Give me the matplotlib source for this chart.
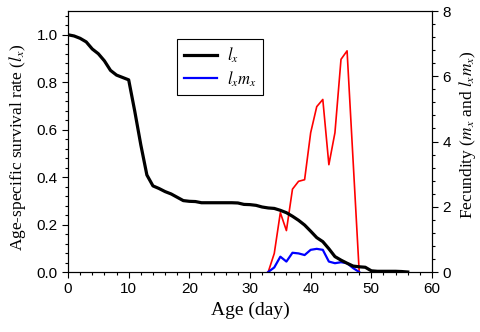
import matplotlib
matplotlib.use('Agg')
import matplotlib.pyplot as plt
from matplotlib.ticker import MultipleLocator, FormatStrFormatter

plt.rcParams['mathtext.fontset'] = 'stix'

# Data
days_lx = list(range(0, 57))
lx = [1.0, 0.995, 0.985, 0.97, 0.94, 0.92, 0.89, 0.85, 0.83, 0.82,
      0.81, 0.678, 0.536, 0.409, 0.363, 0.352, 0.339, 0.329, 0.315, 0.301,
      0.298, 0.297, 0.292, 0.292, 0.292, 0.292, 0.292, 0.292, 0.291, 0.285,
      0.284, 0.281, 0.274, 0.27, 0.268, 0.26, 0.25, 0.235, 0.218, 0.198,
      0.172, 0.145, 0.128, 0.098, 0.065, 0.05, 0.037, 0.025, 0.022, 0.02,
      0.005, 0.003, 0.003, 0.003, 0.003, 0.002, 0.0]

days_mx = [33, 34, 35, 36, 37, 38, 39, 40, 41, 42, 43, 44, 45, 46, 48]
mx = [0.0, 0.57, 1.82, 1.27, 2.54, 2.78, 2.83, 4.27, 5.07, 5.29, 3.29, 4.27, 6.52, 6.78, 0.0]

days_lxmx = list(range(33, 49))
lxmx = [0.0, 0.14, 0.47, 0.32, 0.59, 0.57, 0.52, 0.68, 0.71, 0.68, 0.32, 0.27, 0.3, 0.27, 0.12, 0.0]

SERIF = 'Liberation Serif'
SANS = 'Liberation Sans'

fig = plt.figure(figsize=(4.8, 3.32), dpi=100)
ax = fig.add_axes([0.1417, 0.1807, 0.7583, 0.786])
ax2 = ax.twinx()

ax.plot(days_lx, lx, color='black', linewidth=2.3, label='$l_x$', zorder=3)
ax2.plot(days_mx, mx, color='red', linewidth=1.2, zorder=2)
ax2.plot(days_lxmx, lxmx, color='blue', linewidth=1.6, zorder=2)
# proxy for legend
ax.plot([], [], color='blue', linewidth=1.6, label='$l_xm_x$')
ax.set_zorder(ax2.get_zorder() + 1)
ax.patch.set_visible(False)

ax.set_xlim(0, 60)
ax.set_ylim(0, 1.1)
ax2.set_ylim(0, 8)

ax.xaxis.set_major_locator(MultipleLocator(10))
ax.xaxis.set_minor_locator(MultipleLocator(2))
ax.yaxis.set_major_locator(MultipleLocator(0.2))
ax.yaxis.set_minor_locator(MultipleLocator(0.04))
ax2.yaxis.set_major_locator(MultipleLocator(2))
ax2.yaxis.set_minor_locator(MultipleLocator(0.4))

for a in (ax, ax2):
  a.tick_params(which='major', direction='out', length=4, width=0.8, labelsize=11)
  a.tick_params(which='minor', direction='out', length=2.2, width=0.8)
  for lab in a.get_xticklabels() + a.get_yticklabels():
    lab.set_fontfamily(SANS)
  for s in a.spines.values():
    s.set_linewidth(0.8)

ax.yaxis.set_major_formatter(FormatStrFormatter('%.1f'))

ax.set_xlabel('Age (day)', fontsize=14, family=SERIF, labelpad=4)
ax.set_ylabel('Age-specific survival rate ($l_x$)', fontsize=12.5, family=SERIF)
ax.yaxis.set_label_coords(-0.11, 0.48)
ax2.set_ylabel('Fecundity ($m_x$ and $l_xm_x$)', fontsize=12.5, family=SERIF)
ax2.yaxis.set_label_coords(1.07, 0.525)

leg = ax.legend(loc='upper left', bbox_to_anchor=(0.2995, 0.893), borderaxespad=0,
                frameon=True, fancybox=False, edgecolor='black', framealpha=1,
                fontsize=12, handlelength=2.0, handletextpad=0.6,
                borderpad=0.4, labelspacing=0.25)
leg.get_frame().set_linewidth(0.8)

fig.savefig('out.png', dpi=100)
